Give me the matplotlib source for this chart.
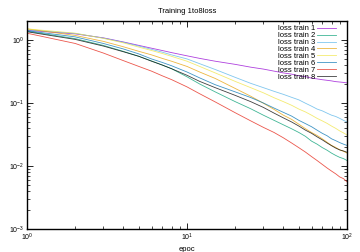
import numpy as np
import matplotlib
matplotlib.use("Agg")
import matplotlib.pyplot as plt
from matplotlib.ticker import LogLocator, NullFormatter

plt.rcParams['font.family'] = ['Liberation Sans', 'DejaVu Sans']
plt.rcParams['mathtext.fontset'] = 'custom'
plt.rcParams['mathtext.rm'] = 'Liberation Sans'

epochs = [1, 2, 3, 4, 5, 6, 7, 8, 10, 12, 15, 20, 25, 30, 35, 40, 45, 50,
          55, 60, 65, 70, 75, 80, 85, 90, 95, 100]

loss1 = [1.42, 1.25, 1.08, 0.93, 0.82, 0.74, 0.68, 0.63, 0.56, 0.51, 0.46, 0.41, 0.37, 0.345,
         0.32, 0.30, 0.287, 0.27, 0.262, 0.248, 0.241, 0.234, 0.229, 0.224, 0.218, 0.215, 0.212, 0.208]
loss2 = [1.38, 1.05, 0.82, 0.66, 0.55, 0.465, 0.40, 0.35, 0.26, 0.20, 0.150, 0.105, 0.081, 0.064,
         0.053, 0.045, 0.039, 0.034, 0.0295, 0.0248, 0.0222, 0.0196, 0.0178, 0.0160, 0.0147,
         0.0137, 0.0131, 0.0122]
loss3 = [1.45, 1.27, 1.07, 0.92, 0.80, 0.71, 0.64, 0.58, 0.50, 0.42, 0.34, 0.255, 0.205, 0.175,
         0.153, 0.137, 0.123, 0.112, 0.099, 0.089, 0.080, 0.075, 0.069, 0.064, 0.061, 0.057,
         0.053, 0.050]
loss4 = [1.50, 1.18, 0.95, 0.78, 0.66, 0.58, 0.51, 0.46, 0.38, 0.31, 0.245, 0.17, 0.128, 0.099,
         0.079, 0.064, 0.055, 0.046, 0.039, 0.034, 0.0305, 0.027, 0.0238, 0.0212, 0.0197,
         0.0180, 0.0171, 0.0160]
loss5 = [1.50, 1.28, 1.06, 0.90, 0.77, 0.68, 0.61, 0.55, 0.46, 0.38, 0.30, 0.22, 0.175, 0.145,
         0.121, 0.105, 0.092, 0.080, 0.072, 0.064, 0.057, 0.052, 0.0475, 0.043, 0.0395, 0.036,
         0.0335, 0.031]
loss6 = [1.40, 1.12, 0.88, 0.72, 0.60, 0.50, 0.44, 0.39, 0.31, 0.25, 0.195, 0.150, 0.122, 0.100,
         0.083, 0.071, 0.062, 0.053, 0.047, 0.042, 0.037, 0.033, 0.0302, 0.027, 0.0252, 0.0235,
         0.0222, 0.0212]
loss7 = [1.28, 0.88, 0.62, 0.47, 0.38, 0.32, 0.27, 0.235, 0.18, 0.14, 0.104, 0.070, 0.052, 0.041,
         0.034, 0.028, 0.0232, 0.0195, 0.0166, 0.0141, 0.0122, 0.0106, 0.0093, 0.0083, 0.0075,
         0.0067, 0.0063, 0.0056]
loss8 = [1.35, 1.02, 0.80, 0.65, 0.55, 0.46, 0.40, 0.35, 0.275, 0.22, 0.175, 0.132, 0.105, 0.085,
         0.069, 0.058, 0.050, 0.043, 0.037, 0.033, 0.029, 0.026, 0.0232, 0.021, 0.0192, 0.018,
         0.0173, 0.0165]

series = [loss1, loss2, loss3, loss4, loss5, loss6, loss7, loss8]
labels = ["loss train %d" % (i + 1) for i in range(8)]
colors = ["#9400d3", "#009e73", "#56b4e9", "#e69f00",
          "#f0e442", "#0072b2", "#e51e10", "#000000"]

fig = plt.figure(figsize=(3.6, 2.52), dpi=100)
ax = fig.add_axes([0.075, 0.0913, 0.889, 0.8254])

for ys, lab, c in zip(series, labels, colors):
    ax.plot(epochs, ys, color=c, lw=0.6, alpha=0.75, label=lab)

ax.set_xscale("log")
ax.set_yscale("log")
ax.set_xlim(1, 100)
ax.set_ylim(1e-3, 2)

for axis in (ax.xaxis, ax.yaxis):
    axis.set_major_locator(LogLocator(base=10, numticks=10))
    axis.set_minor_locator(LogLocator(base=10, subs=np.arange(2, 10), numticks=20))
    axis.set_minor_formatter(NullFormatter())

ax.tick_params(which="both", direction="in", top=True, right=True,
               labelsize=5, color="black", pad=2)
ax.tick_params(which="major", length=4, width=0.6)
ax.tick_params(which="minor", length=2, width=0.5)
for s in ax.spines.values():
    s.set_linewidth(1.0)

ax.set_title("Training 1to8loss", fontsize=5.5, pad=6)
ax.set_xlabel("epoc", fontsize=5.5, labelpad=2)

leg = ax.legend(loc="upper right", bbox_to_anchor=(0.976, 0.995), frameon=False,
                markerfirst=False, fontsize=5.5, handlelength=2.5, handletextpad=0.3,
                labelspacing=-0.06, borderpad=0.4, borderaxespad=0.0)

fig.savefig("out.png", dpi=100)
